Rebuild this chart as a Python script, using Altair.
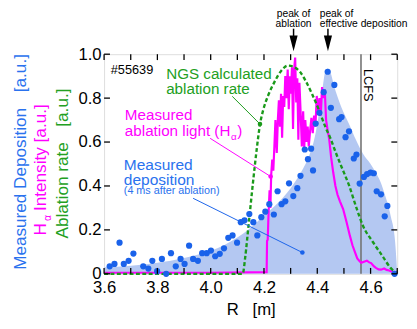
import altair as alt
import pandas as pd

# ---------------- data ----------------
dep_R = [3.621, 3.639, 3.658, 3.674, 3.692, 3.710, 3.747, 3.766, 3.781, 3.799,
         3.817, 3.833, 3.851, 3.869, 3.887, 3.902, 3.919, 3.934, 3.952, 3.968,
         3.985, 4.001, 4.017, 4.034, 4.050, 4.066, 4.082, 4.099, 4.113, 4.127,
         4.145, 4.160, 4.175, 4.190, 4.205, 4.220, 4.237, 4.251, 4.266, 4.280,
         4.294, 4.310, 4.325, 4.337, 4.353, 4.365, 4.377, 4.384, 4.394, 4.408,
         4.424, 4.439, 4.451, 4.464, 4.482, 4.491, 4.506, 4.519, 4.537, 4.547,
         4.559, 4.575, 4.587, 4.600, 4.612, 4.623, 4.639, 4.653, 4.663, 4.690]
dep_v = [0.034, 0.045, 0.142, 0.045, 0.059, 0.092, 0.034, 0.024, 0.059, 0.012,
         0.068, 0.0, 0.094, 0.034, 0.068, 0.045, 0.128, 0.068, 0.059, 0.094,
         0.094, 0.106, 0.080, 0.091, 0.116, 0.164, 0.175, 0.142, 0.235, 0.244,
         0.272, 0.235, 0.175, 0.258, 0.283, 0.317, 0.270, 0.376, 0.317, 0.330,
         0.412, 0.354, 0.390, 0.446, 0.566, 0.522, 0.570, 0.471, 0.684, 0.733,
         0.827, 0.920, 0.756, 0.860, 0.704, 0.714, 0.622, 0.649, 0.525, 0.543,
         0.411, 0.441, 0.454, 0.461, 0.458, 0.376, 0.362, 0.262, 0.309, 0.0]

env_R = [3.60, 3.70, 3.80, 3.90, 4.00, 4.05, 4.10, 4.15, 4.20, 4.25, 4.30, 4.34,
         4.37, 4.39, 4.405, 4.418, 4.431, 4.44, 4.45, 4.462, 4.49, 4.52, 4.545,
         4.571, 4.60, 4.62, 4.64, 4.651, 4.675, 4.692, 4.70]
env_v = [0.03, 0.037, 0.05, 0.072, 0.105, 0.13, 0.165, 0.21, 0.265, 0.32, 0.39, 0.465,
         0.54, 0.62, 0.72, 0.83, 0.925, 0.935, 0.915, 0.86, 0.76, 0.68, 0.61,
         0.548, 0.50, 0.46, 0.41, 0.37, 0.265, 0.146, 0.0]

ngs_R = [3.60, 4.12, 4.13, 4.142, 4.16, 4.172, 4.185, 4.198, 4.215, 4.24, 4.265,
         4.29, 4.31, 4.335, 4.357, 4.38, 4.405, 4.43, 4.45, 4.47, 4.49, 4.52,
         4.547, 4.571, 4.608, 4.645, 4.675, 4.695]
ngs_v = [0.0, 0.0, 0.08, 0.22, 0.43, 0.56, 0.68, 0.75, 0.81, 0.875, 0.925,
         0.948, 0.943, 0.92, 0.877, 0.82, 0.75, 0.67, 0.615, 0.55, 0.49, 0.40,
         0.30, 0.22, 0.146, 0.08, 0.027, 0.005]

ha_R = [3.60, 4.00, 4.21, 4.2115, 4.214, 4.217, 4.221, 4.224, 4.227, 4.231, 4.235,
        4.239, 4.243, 4.248, 4.252, 4.256, 4.26, 4.264, 4.268, 4.272, 4.276, 4.28,
        4.284, 4.289, 4.293, 4.297, 4.301, 4.305, 4.309, 4.313, 4.317, 4.321,
        4.325, 4.329, 4.333, 4.338, 4.342, 4.347, 4.351, 4.355, 4.36, 4.364,
        4.368, 4.373, 4.378, 4.383, 4.388, 4.393, 4.398, 4.403, 4.408, 4.413,
        4.418, 4.423, 4.428, 4.433, 4.438, 4.445, 4.452, 4.46, 4.468, 4.476,
        4.485, 4.497, 4.51, 4.522, 4.532, 4.541, 4.55, 4.559, 4.565, 4.575,
        4.586, 4.595, 4.602, 4.612, 4.62, 4.63, 4.639, 4.651, 4.66, 4.67, 4.68,
        4.69, 4.70]
ha_v = [0.005, 0.005, 0.008, 0.15, 0.155, 0.27, 0.38, 0.30, 0.45, 0.52, 0.47,
        0.58, 0.70, 0.55, 0.70, 0.79, 0.67, 0.82, 0.62, 0.81, 0.76, 0.90,
        0.80, 0.93, 0.75, 0.90, 0.82, 0.94, 0.66, 0.93, 0.985, 0.78,
        0.89, 0.61, 0.87, 0.72, 0.58, 0.74, 0.57, 0.70, 0.60, 0.67,
        0.58, 0.65, 0.71, 0.64, 0.72, 0.67, 0.81, 0.73, 0.80, 0.72,
        0.85, 0.80, 0.84, 0.70, 0.66, 0.61, 0.53, 0.46, 0.40, 0.36,
        0.33, 0.295, 0.235, 0.175, 0.13, 0.10, 0.07, 0.057, 0.05, 0.055,
        0.06, 0.052, 0.049, 0.035, 0.027, 0.02, 0.019, 0.024, 0.018, 0.015, 0.01,
        0.008, 0.006]

x_ticks = [3.6, 3.7, 3.8, 3.9, 4.0, 4.1, 4.2, 4.3, 4.4, 4.5, 4.6, 4.7]
x_labels = [3.6, 3.8, 4.0, 4.2, 4.4, 4.6]
y_ticks = [0.0, 0.2, 0.4, 0.6, 0.8, 1.0]

lcfs_R = [4.564]
peak_R = [4.311, 4.440]

# colours
BLUE = "#1a62ea"
BLUE_T = "#2a72ee"
FILL = "#b4c8f2"
GREEN = "#1a9a1a"
GREEN_T = "#22a022"
MAG = "#ff00ff"
FONT = "Liberation Sans"

# ---------------- encodings ----------------
xs = alt.Scale(domain=[3.6, 4.7], nice=False, zero=False)
ys = alt.Scale(domain=[0, 1], nice=False, zero=False)
xaxis = alt.Axis(values=x_labels, ticks=False, tickSize=0, domain=False, grid=False,
                 labelFontSize=17, labelFont=FONT, labelColor="black", labelFlush=False,
                 labelPadding=6, format=".1f", title="R\u00a0\u00a0\u00a0[m]",
                 titleFont=FONT, titleFontSize=17, titleFontWeight="normal",
                 titleColor="black", titlePadding=7)
yaxis = alt.Axis(values=y_ticks, ticks=False, tickSize=0, domain=False, grid=False,
                 labelFontSize=17, labelFont=FONT, labelColor="black",
                 labelPadding=3, title=None,
                 labelExpr="datum.value == 0 ? '0' : format(datum.value, '.1f')")
X = alt.X("R:Q", scale=xs, axis=xaxis)
Y = alt.Y("v:Q", scale=ys, axis=yaxis)

env_df = pd.DataFrame({"R": env_R, "v": env_v})
dep_df = pd.DataFrame({"R": dep_R, "v": dep_v})
ngs_df = pd.DataFrame({"R": ngs_R, "v": ngs_v})
ha_df = pd.DataFrame({"R": ha_R, "v": ha_v})

area = alt.Chart(env_df).mark_area(color=FILL, opacity=1, interpolate="monotone").encode(x=X, y=Y)
lcfs = alt.Chart(pd.DataFrame({"R": lcfs_R})).mark_rule(color="#737373", strokeWidth=1.6).encode(x=X)
ha = alt.Chart(ha_df).mark_line(color=MAG, strokeWidth=2.2).encode(x=X, y=Y)
ngs = alt.Chart(ngs_df).mark_line(color=GREEN, strokeWidth=2.4, strokeDash=[4, 2.5],
                                  interpolate="monotone").encode(x=X, y=Y)
dots = alt.Chart(dep_df).mark_circle(size=40, color=BLUE, opacity=1).encode(x=X, y=Y)

# inward ticks on all four sides
xt = pd.DataFrame({"R": x_ticks})
yt = pd.DataFrame({"v": y_ticks})
tick_style = dict(color="black", strokeWidth=1.3)
tb = alt.Chart(xt).mark_rule(**tick_style).encode(x=X, y=alt.value(224), y2=alt.value(218))
tt = alt.Chart(xt).mark_rule(**tick_style).encode(x=X, y=alt.value(0), y2=alt.value(6))
tl = alt.Chart(yt).mark_rule(**tick_style).encode(y=Y, x=alt.value(0), x2=alt.value(6))
tr = alt.Chart(yt).mark_rule(**tick_style).encode(y=Y, x=alt.value(299), x2=alt.value(293))

# leader lines from labels to curves
lead_df = pd.DataFrame({
    "R": [4.081, 3.998, 3.934], "v": [0.808, 0.617, 0.344],
    "R2": [4.185, 4.225, 4.344], "v2": [0.682, 0.443, 0.097],
    "c": [GREEN, MAG, BLUE],
})
leads = alt.Chart(lead_df).mark_rule(strokeWidth=1).encode(
    x=X, y=Y, x2="R2:Q", y2="v2:Q", color=alt.Color("c:N", scale=None))
lead_dots = alt.Chart(lead_df).mark_circle(size=22, opacity=1).encode(
    x=alt.X("R2:Q", scale=xs, axis=xaxis), y=alt.Y("v2:Q", scale=ys, axis=yaxis),
    color=alt.Color("c:N", scale=None))

# in-plot labels
lab_df = pd.DataFrame({
    "R": [3.625, 3.833, 3.833, 3.678, 3.678, 4.076, 4.100, 3.674, 3.674, 3.674],
    "v": [0.911, 0.887, 0.818, 0.699, 0.627, 0.609, 0.627, 0.473, 0.406, 0.364],
    "t": ["#55639", "NGS calculated", "ablation rate", "Measured", "ablation light (H",
          "\u03b1", ")", "Measured", "deposition", "(4 ms after ablation)"],
    "c": ["black", GREEN_T, GREEN_T, MAG, MAG, MAG, MAG, BLUE_T, BLUE_T, BLUE_T],
    "s": [13, 15.5, 15.5, 15.5, 15.5, 10, 15.5, 15.8, 15.8, 11],
})
labels = alt.Chart(lab_df).mark_text(align="left", baseline="alphabetic", font=FONT).encode(
    x=X, y=Y, text="t:N", color=alt.Color("c:N", scale=None), size=alt.Size("s:Q", scale=None))

lcfs_lab = alt.Chart(pd.DataFrame({"R": [4.575], "v": [0.933], "t": ["LCFS"]})).mark_text(
    align="left", baseline="alphabetic", angle=90, font=FONT, fontSize=13, color="black"
).encode(x=X, y=Y, text="t:N")

# peak annotations above the frame
peak_df = pd.DataFrame({"R": peak_R, "v": [1.1161, 1.1161], "v2": [1.0804, 1.0804]})
shafts = alt.Chart(peak_df).mark_rule(color="black", strokeWidth=1.5).encode(x=X, y=Y, y2="v2:Q")
heads = alt.Chart(pd.DataFrame({"R": peak_R, "v": [1.0491, 1.0491]})).mark_point(
    shape="M-0.52,-1L0.52,-1L0,1Z", size=256, filled=True, color="black", opacity=1
).encode(x=X, y=Y)
ptxt_df = pd.DataFrame({
    "R": [4.311, 4.311, 4.409, 4.409],
    "v": [1.1674, 1.1228, 1.1674, 1.1228],
    "t": ["peak of", "ablation", "peak of", "effective deposition"],
    "a": ["center", "center", "left", "left"],
})
ptxt_c = alt.Chart(ptxt_df[ptxt_df.a == "center"]).mark_text(
    align="center", baseline="alphabetic", font=FONT, fontSize=10.5, color="black"
).encode(x=X, y=Y, text="t:N")
ptxt_l = alt.Chart(ptxt_df[ptxt_df.a == "left"]).mark_text(
    align="left", baseline="alphabetic", font=FONT, fontSize=10.5, color="black"
).encode(x=X, y=Y, text="t:N")

# rotated y titles (left of the frame)
yt_df = pd.DataFrame({
    "R": [3.3082, 3.3082, 3.3818, 3.4014, 3.3818, 3.4640, 3.4640],
    "v": [0.018, 0.827, 0.175, 0.241, 0.286, 0.161, 0.670],
    "t": ["Measured Deposition", "[a.u.]", "H", "\u03b1", "Intensity [a.u.]",
          "Ablation rate", "[a.u.]"],
    "c": [BLUE_T, BLUE_T, MAG, MAG, MAG, GREEN_T, GREEN_T],
    "s": [17.5, 17.5, 17.5, 10.5, 17.5, 17.5, 17.5],
})
ytitles = alt.Chart(yt_df).mark_text(angle=270, align="left", baseline="alphabetic", font=FONT).encode(
    x=X, y=Y, text="t:N", color=alt.Color("c:N", scale=None), size=alt.Size("s:Q", scale=None))

chart = alt.layer(
    area, lcfs, ha, ngs, dots, leads, lead_dots, tb, tt, tl, tr,
    labels, lcfs_lab, shafts, heads, ptxt_c, ptxt_l, ytitles
).properties(
    width=299, height=224,
    padding={"left": 98, "top": 44, "right": 12, "bottom": 45},
    autosize=alt.AutoSizeParams(type="none"),
).configure_view(stroke="black", strokeWidth=1.5).configure(background="white")

chart.save("out.html", embed_options={"renderer": "svg", "actions": False})
